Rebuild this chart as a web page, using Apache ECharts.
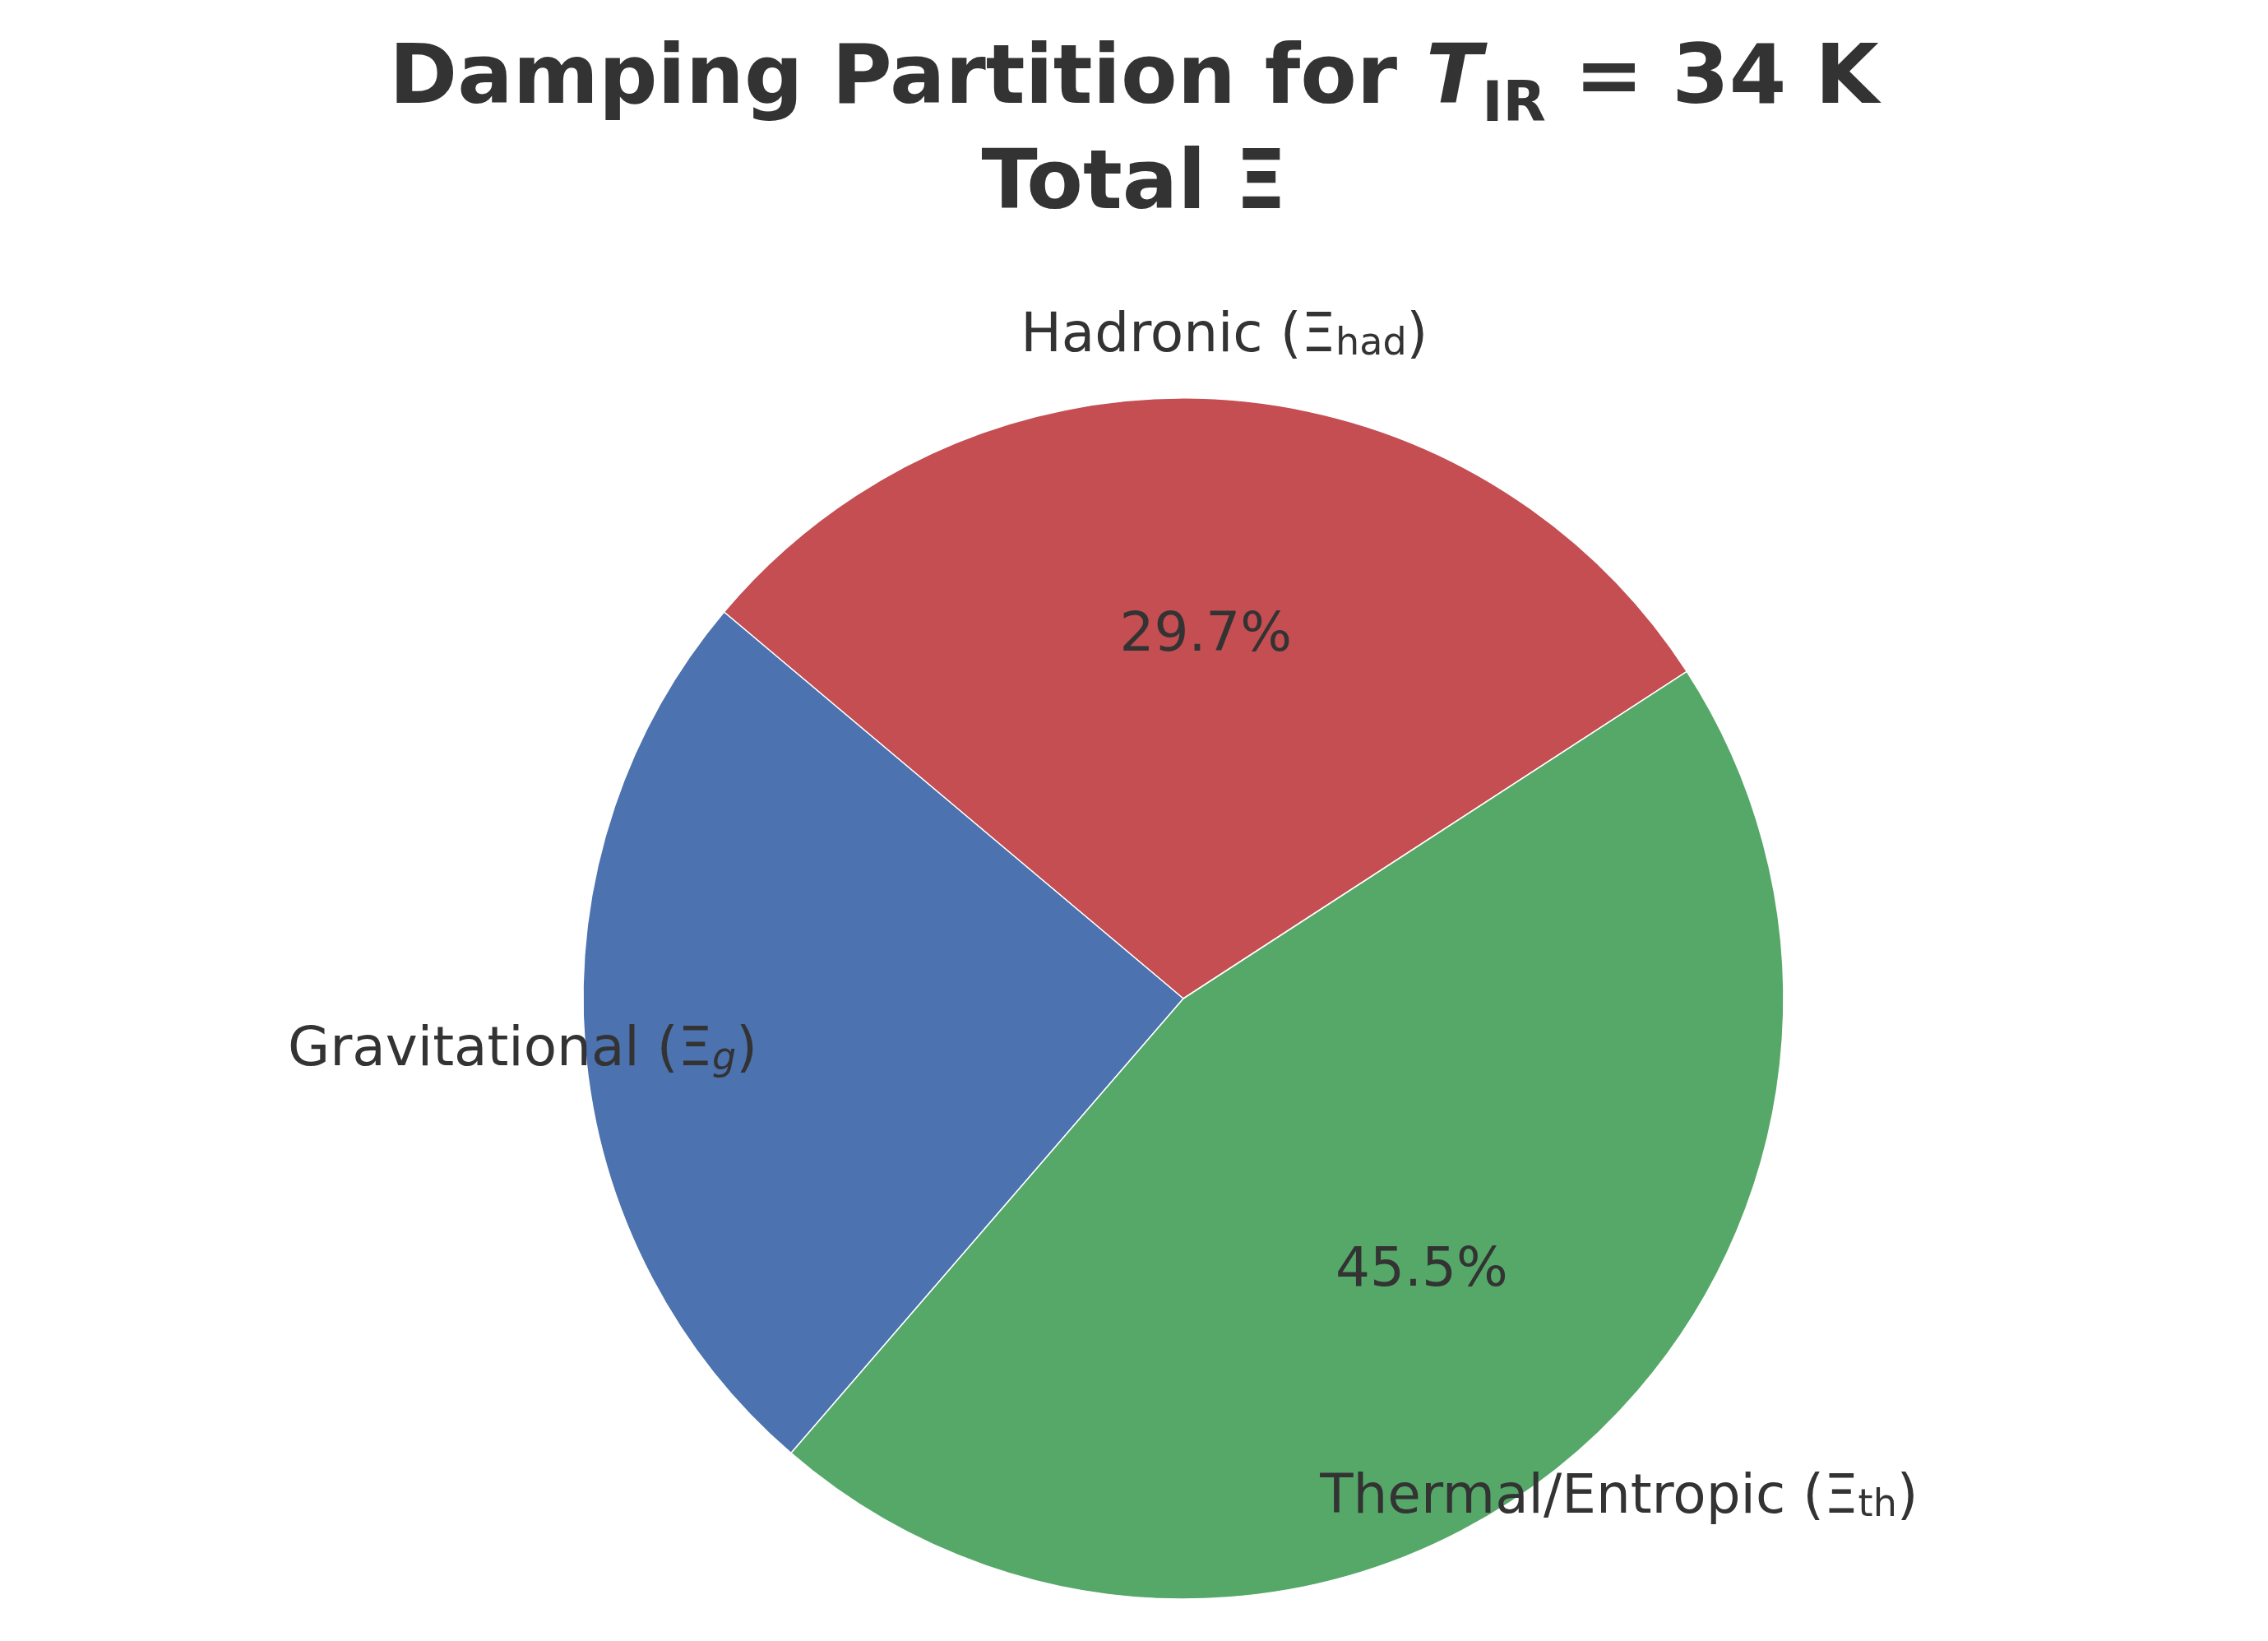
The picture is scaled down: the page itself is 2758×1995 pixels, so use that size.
<!DOCTYPE html>
<html><head><meta charset="utf-8">
<script src="https://cdn.jsdelivr.net/npm/echarts@6/dist/echarts.min.js"></script>
<style>html,body{margin:0;padding:0;background:#fff}#c{width:2758px;height:1995px}</style>
</head><body><div id="c"></div>
<script>
const categories = ['Hadronic', 'Gravitational', 'Thermal/Entropic'];
const subscripts = ['had', 'g', 'th'];
const values = [29.7, 24.8, 45.5];
const colors = ['#C44E52', '#4C72B0', '#55A868'];
const aligns = ['left', 'right', 'left'];

const R = 730, cx = 1439, cy = 1214;
const font = 'DejaVu Sans';
const txt = '#333333';
const chart = echarts.init(document.getElementById('c'));
const rich = {
  n: {fontSize: 66, fontFamily: font, color: txt},
  s: {fontSize: 46, fontFamily: font, color: txt, verticalAlign: 'bottom', padding: [0,0,0,0], lineHeight: 50},
  si: {fontSize: 46, fontFamily: font, fontStyle: 'italic', color: txt, verticalAlign: 'bottom', lineHeight: 50}
};
chart.setOption({
  animation: false,
  title: {
    text: '{a|Damping Partition for }{t|T}{s|IR}{a| = 34 K}\n{a|Total Ξ}',
    left: 'center', top: 30,
    textStyle: {
      rich: {
        a: {fontSize: 100, fontFamily: font, color: txt, lineHeight: 128},
        t: {fontSize: 100, fontFamily: font, fontStyle: 'italic', color: txt, lineHeight: 128},
        s: {fontSize: 68, fontFamily: font, color: txt, lineHeight: 90, verticalAlign: 'bottom'}
      }
    }
  },
  series: [
    {
      type: 'pie', center: [cx, cy], radius: [0, R], startAngle: 33, clockwise: false,
      silent: true,
      itemStyle: {borderColor: '#fff', borderWidth: 1.5},
      label: {show: false}, labelLine: {show: false},
      data: categories.map((c, i) => ({name: c, value: values[i], itemStyle: {color: colors[i]}}))
    },
    {
      type: 'pie', center: [cx, cy], radius: [0, R * 1.2], startAngle: 33, clockwise: false,
      silent: true, z: 5,
      itemStyle: {color: 'rgba(0,0,0,0)'},
      label: {show: true, position: 'inside', fontSize: 66, fontFamily: font, color: txt,
        formatter: p => values[p.dataIndex].toFixed(1) + '%'},
      labelLine: {show: false},
      data: categories.map((c, i) => ({name: c, value: values[i]}))
    },
    {
      type: 'pie', center: [cx, cy], radius: [0, R * 2.2], startAngle: 33, clockwise: false,
      silent: true, z: 5,
      itemStyle: {color: 'rgba(0,0,0,0)'},
      labelLine: {show: false},
      data: categories.map((c, i) => ({
        name: c, value: values[i],
        label: {show: true, position: 'inside', align: aligns[i], rich: rich,
          formatter: '{n|' + c + ' (Ξ}' + (i === 1 ? '{si|' : '{s|') + subscripts[i] + '}{n|)}'}
      }))
    }
  ]
});
</script></body></html>
